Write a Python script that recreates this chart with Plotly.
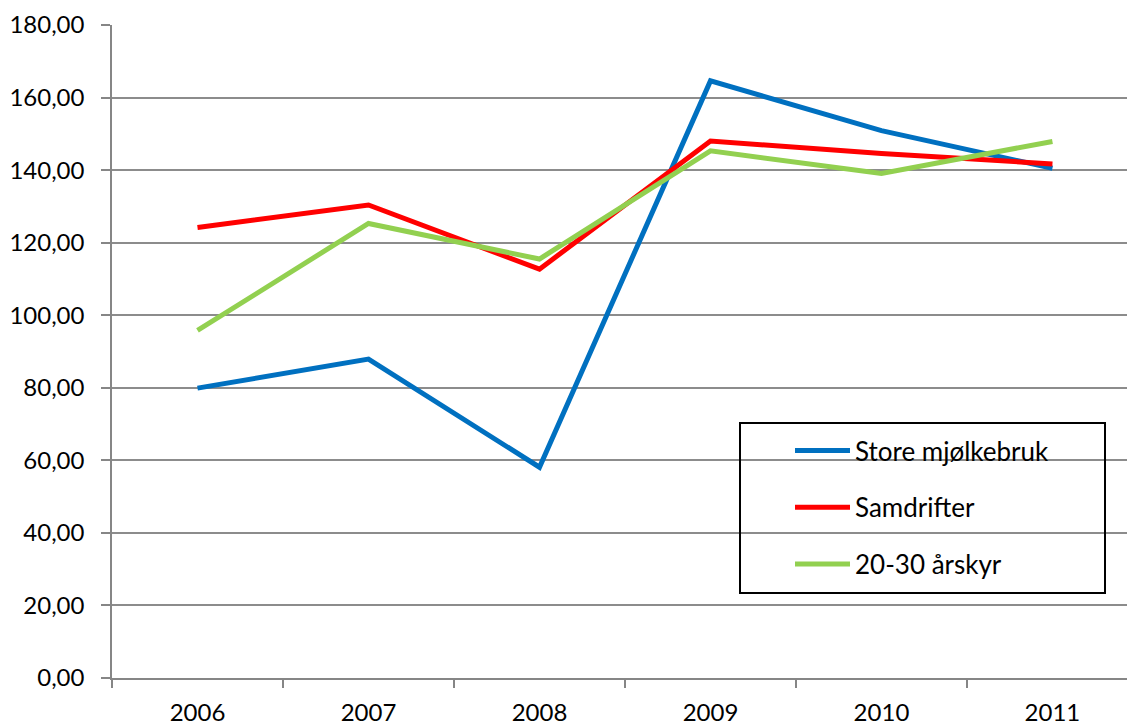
import plotly.graph_objects as go

years = ["2006", "2007", "2008", "2009", "2010", "2011"]
store = [79.9, 87.9, 58.1, 164.6, 150.9, 140.5]
samdrifter = [124.2, 130.4, 112.7, 148.0, 144.6, 141.7]
arskyr = [95.8, 125.3, 115.5, 145.3, 139.1, 147.9]

names = ["Store mjølkebruk", "Samdrifter", "20-30 årskyr"]
colors = ["#0070C0", "#FF0000", "#92D050"]

FONT = "Lato, 'Open Sans', sans-serif"

fig = go.Figure()
for i, (name, vals, col) in enumerate(zip(names, [store, samdrifter, arskyr], colors)):
    fig.add_trace(go.Scatter(x=years, y=vals, name=name, mode="lines",
                             line=dict(color=col, width=5),
                             legendgroup=f"g{i}"))

fig.update_layout(
    width=1127, height=726,
    margin=dict(l=112, r=0, t=25, b=48),
    paper_bgcolor="white", plot_bgcolor="white",
    separators=", ",
    font=dict(family=FONT, size=24, color="black"),
    showlegend=True,
    legend=dict(x=(790 - 112) / 1015, y=(678 - 427) / 653, xanchor="left", yanchor="top",
                xref="paper", yref="paper",
                bgcolor="rgba(0,0,0,0)", borderwidth=0,
                font=dict(family=FONT, size=26, color="black"),
                itemwidth=55, tracegroupgap=20),
    xaxis=dict(type="category", range=[-0.5, 5.436], showgrid=False,
               showline=True, linecolor="#868686", linewidth=1.5,
               ticks="outside", ticklen=8, tickcolor="#868686", tickwidth=1.5,
               tickson="boundaries", ticklabelstandoff=12,
               tickfont=dict(family=FONT, size=24)),
    yaxis=dict(range=[0, 180], dtick=20, tickformat=".2f",
               showgrid=True, gridcolor="#8c8c8c", gridwidth=1.5,
               showline=True, linecolor="#868686", linewidth=1.5,
               ticks="outside", ticklen=9, tickcolor="#868686", tickwidth=1.5,
               ticklabelstandoff=12,
               zeroline=False, tickfont=dict(family=FONT, size=24)),
    shapes=[dict(type="rect", xref="paper", yref="paper",
                 x0=(740 - 112) / 1015, x1=(1105 - 112) / 1015,
                 y0=(678 - 593) / 653, y1=(678 - 423) / 653,
                 line=dict(color="black", width=2), fillcolor="rgba(0,0,0,0)")],
)

fig.write_html("out.html", config={"displayModeBar": False},
               post_script="document.body.style.margin='0';")
